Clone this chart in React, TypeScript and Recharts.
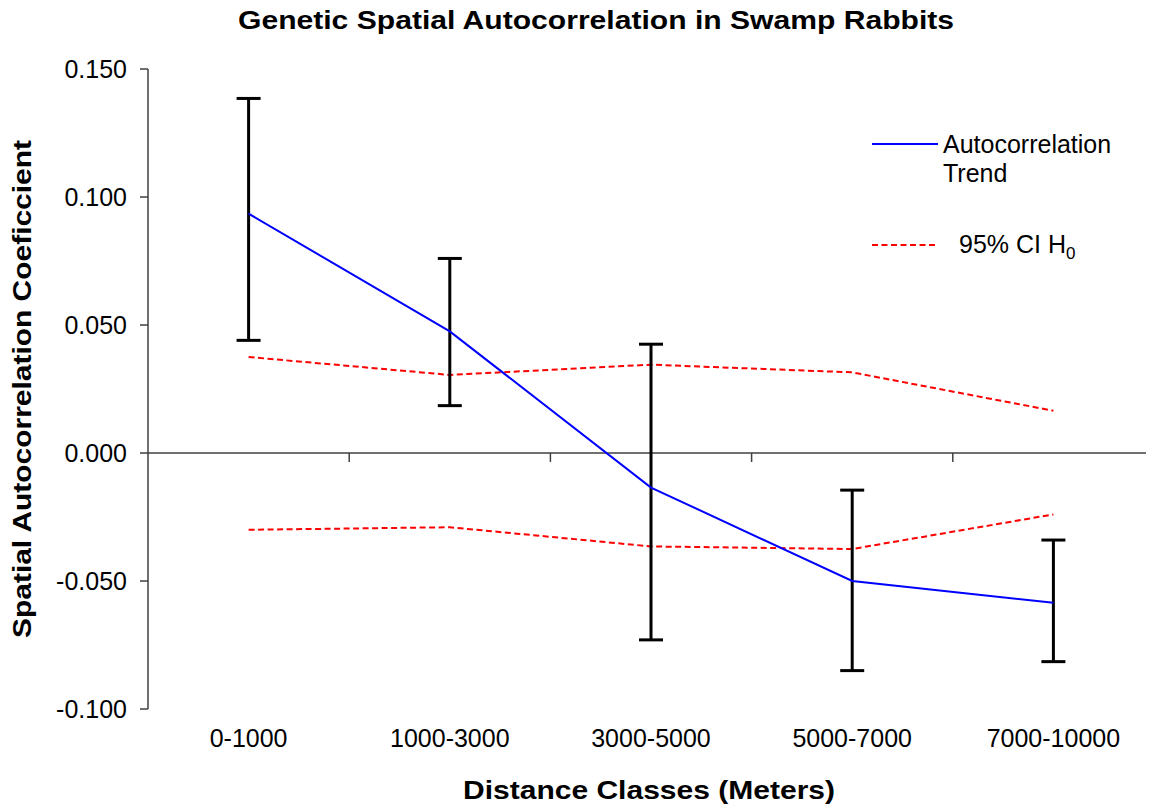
import { CartesianGrid, ErrorBar, Line, LineChart, ReferenceLine, XAxis, YAxis } from "recharts";

const categories = ["0-1000", "1000-3000", "3000-5000", "5000-7000", "7000-10000"];
const trend = [0.0935, 0.0475, -0.0135, -0.05, -0.0585];
const barHigh = [0.1385, 0.076, 0.0425, -0.0145, -0.034];
const barLow = [0.044, 0.0185, -0.073, -0.085, -0.0815];
const ciUpper = [0.0375, 0.0305, 0.0345, 0.0315, 0.0165];
const ciLower = [-0.03, -0.029, -0.0365, -0.0375, -0.024];
const yTicks = [-0.1, -0.05, 0, 0.05, 0.1, 0.15];
const boundaries = [1, 2, 3, 4];

const FONT = "'Liberation Sans', Arial, sans-serif";
const AXIS = "#404040";

const rows = categories.map((name, i) => ({
  x: i + 0.5,
  name,
  trend: trend[i],
  err: [trend[i] - barLow[i], barHigh[i] - trend[i]],
  upper: ciUpper[i],
  lower: ciLower[i],
}));

function Overlay() {
  return (
    <svg
      width={1146}
      height={800}
      style={{ position: "absolute", left: 0, top: 0, pointerEvents: "none", overflow: "visible" }}
      fontFamily={FONT}
    >
      <text x={588} y={21} textAnchor="middle" fontSize={26} fontWeight="bold" textLength={716} lengthAdjust="spacingAndGlyphs">
        Genetic Spatial Autocorrelation  in Swamp Rabbits
      </text>
      <text
        transform="translate(23, 381) rotate(-90)"
        textAnchor="middle"
        fontSize={26}
        fontWeight="bold"
        textLength={498}
        lengthAdjust="spacingAndGlyphs"
      >
        Spatial Autocorrelation  Coeficcient
      </text>
      <text x={641} y={791} textAnchor="middle" fontSize={26} fontWeight="bold" textLength={372} lengthAdjust="spacingAndGlyphs">
        Distance Classes (Meters)
      </text>

      {/* legend */}
      <line x1={864} x2={930} y1={136} y2={136} stroke="#0000FF" strokeWidth={2} />
      <text x={935} y={145} fontSize={25}>Autocorrelation</text>
      <text x={935} y={174} fontSize={25}>Trend</text>
      <line x1={864} x2={929} y1={237} y2={237} stroke="#FF0000" strokeWidth={2} strokeDasharray="6 3.5" />
      <text x={951} y={245} fontSize={25}>
        95% CI H
        <tspan fontSize={17} dy={6}>0</tspan>
      </text>
    </svg>
  );
}

export default function App() {
  return (
    <div style={{ position: "relative", width: 1146, height: 800, background: "#fff" }}>
      <LineChart width={1146} height={800} data={rows} margin={{ top: 61, right: 0, bottom: 39, left: 0 }}>
        <CartesianGrid stroke="none" />
        <XAxis
          type="number"
          dataKey="x"
          domain={[0, 5]}
          ticks={rows.map((r) => r.x)}
          tickFormatter={(v) => categories[Math.floor(v)]}
          axisLine={false}
          tickLine={false}
          tickSize={0}
          tickMargin={20}
          height={60}
          interval={0}
          tick={{ fill: "#000", fontSize: 25, fontFamily: FONT }}
        />
        <YAxis
          type="number"
          domain={[-0.1, 0.15]}
          ticks={yTicks}
          tickFormatter={(v) => v.toFixed(3)}
          width={140}
          tickSize={8}
          tickMargin={13}
          axisLine={{ stroke: AXIS, strokeWidth: 1.5 }}
          tickLine={{ stroke: AXIS, strokeWidth: 1.5 }}
          tick={{ fill: "#000", fontSize: 25, fontFamily: FONT }}
        />
        <ReferenceLine y={0} stroke={AXIS} strokeWidth={1.5} />
        {boundaries.map((b) => (
          <ReferenceLine
            key={b}
            segment={[
              { x: b, y: 0 },
              { x: b, y: -0.0035 },
            ]}
            stroke={AXIS}
            strokeWidth={1.5}
          />
        ))}
        <Line dataKey="upper" stroke="#FF0000" strokeWidth={2} strokeDasharray="6 3.5" dot={false} isAnimationActive={false} />
        <Line dataKey="lower" stroke="#FF0000" strokeWidth={2} strokeDasharray="6 3.5" dot={false} isAnimationActive={false} />
        <Line dataKey="trend" stroke="#0000FF" strokeWidth={2} dot={false} isAnimationActive={false}>
          <ErrorBar dataKey="err" direction="y" width={12} stroke="#000" strokeWidth={3} isAnimationActive={false} />
        </Line>
      </LineChart>
      <Overlay />
    </div>
  );
}
